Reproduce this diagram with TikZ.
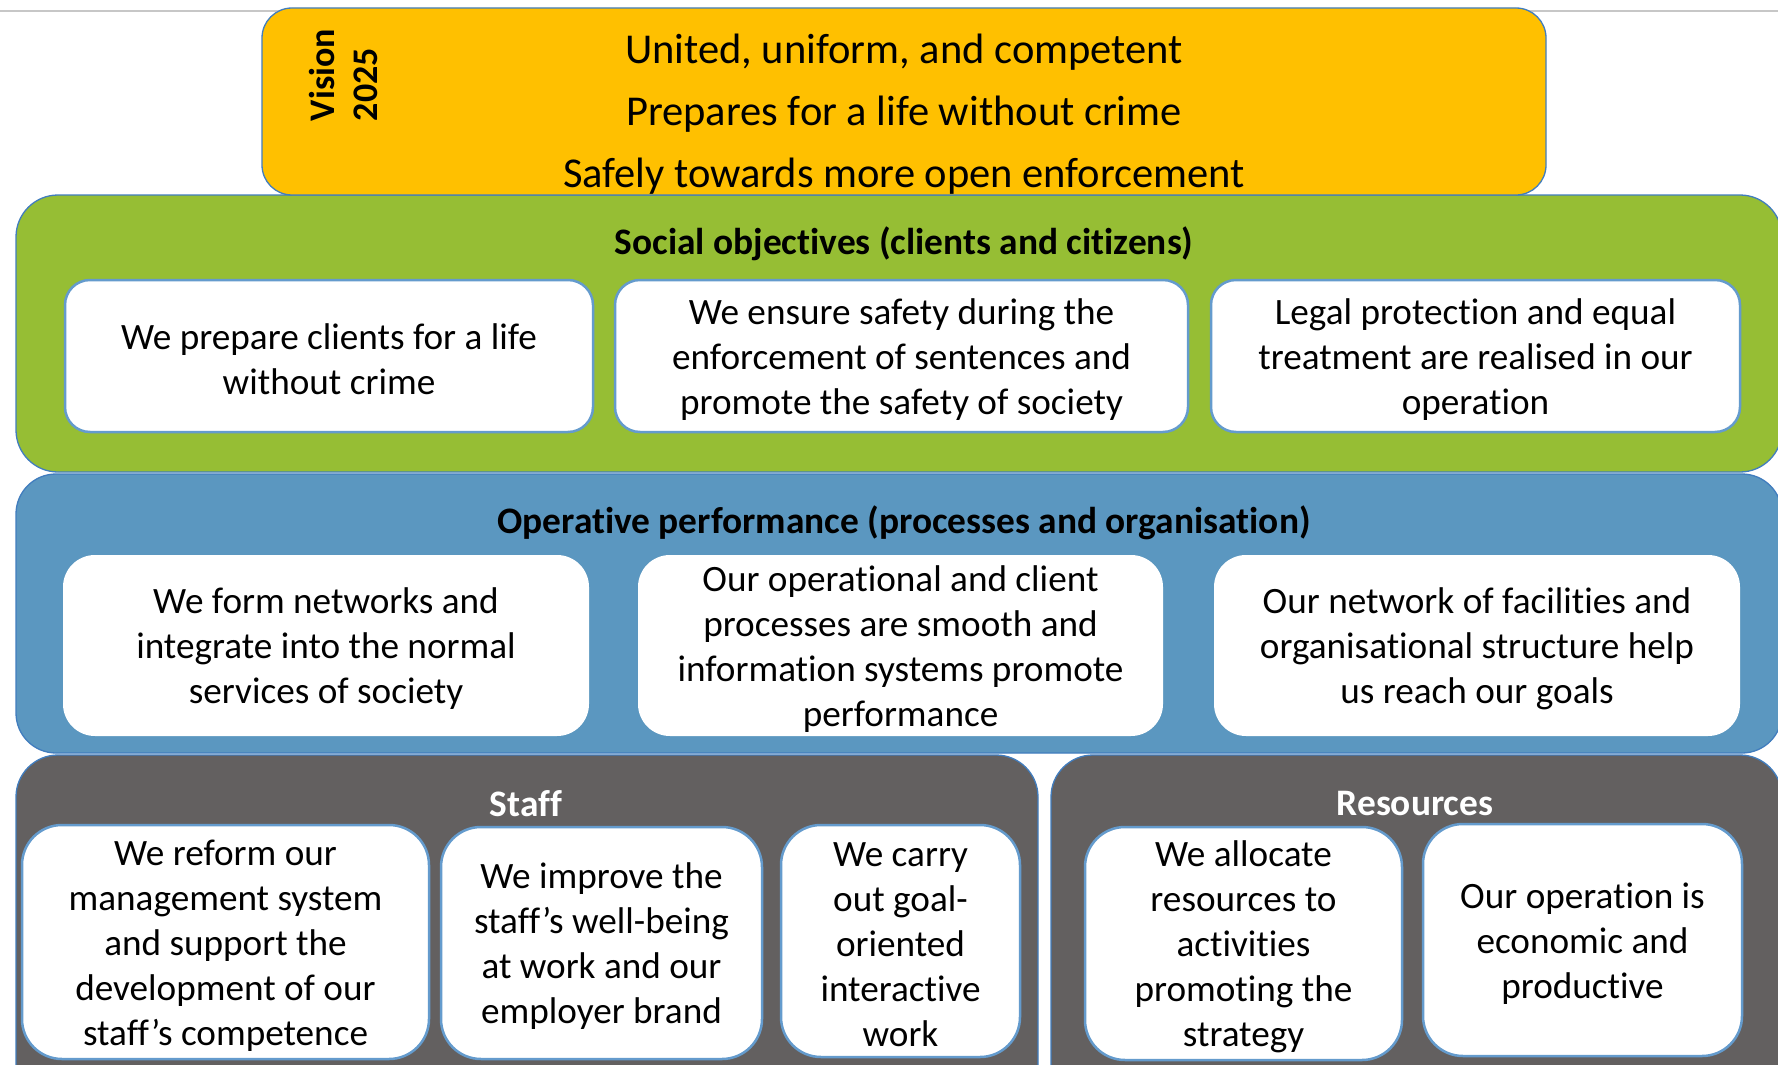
\documentclass[tikz,border=0pt]{standalone}
\usepackage{fontspec}
\setmainfont{Carlito}[RawFeature={-liga;-calt;-clig}]
\definecolor{vyellow}{RGB}{255,192,0}
\definecolor{sgreen}{RGB}{150,190,52}
\definecolor{oblue}{RGB}{91,151,192}
\definecolor{sgray}{RGB}{99,96,96}
\definecolor{edgeblue}{RGB}{65,125,190}
\definecolor{inblue}{RGB}{100,155,205}
\newcommand\mkbox[7]{%
  \pgfmathsetmacro\bw{#4-#2}\pgfmathsetmacro\bh{#5-#3}%
  \pgfmathsetmacro\bx{(#2+#4)/2}\pgfmathsetmacro\by{(#3+#5)/2}%
  \node[#6, minimum width=\bw pt, minimum height=\bh pt] (#1) at (\bx,\by) {#7};}
\begin{document}
\begin{tikzpicture}[x=1pt,y=-1pt,
  section/.style={draw=edgeblue, line width=1.3pt, inner sep=0pt},
  shiftdown/.style={label={[inner sep=0pt, align=center, font=\fontsize{37.2}{45}\selectfont, yshift=-3.5pt]center:#1}},
  gbox/.style={fill=white, draw=inblue, line width=2.5pt, rounded corners=25pt},
  bbox/.style={fill=white, draw=none, rounded corners=32pt},
  sbox/.style={fill=white, draw=inblue, line width=2.5pt, rounded corners=40pt},
  title/.style={font=\bfseries\fontsize{37.4}{44}\selectfont, inner sep=0pt, yshift=-2pt}
]
\useasboundingbox (0,0) rectangle (1778,1065);
\clip (0,0) rectangle (1778,1065);
\fill[white] (0,0) rectangle (1778,1065);
\coordinate (tl) at (0,11);
\coordinate (tr) at (1778,11);
\draw[black!22, line width=1.5pt] (tl) -- (tr);

% sections
\mkbox{green}{16}{195}{1782}{472}{section, fill=sgreen, rounded corners=42pt}{}
\mkbox{blue}{16}{474}{1782}{753}{section, fill=oblue, rounded corners=40pt}{}
\mkbox{staff}{16}{755}{1038}{1110}{section, fill=sgray, rounded corners=42pt}{}
\mkbox{res}{1051}{755}{1782}{1110}{section, fill=sgray, rounded corners=42pt}{}
\mkbox{vision}{262}{8}{1546}{195}{section, fill=vyellow, rounded corners=30pt}{}

% vision
\node[rotate=90, align=left, inner sep=0pt, font=\bfseries\fontsize{36}{43}\selectfont] (vlabel) at (343,75) {Vision\\2025};
\node[align=center, inner sep=0pt, font=\fontsize{42.5}{62}\selectfont, yshift=-2.5pt] (vtext) at (904,112)
  {United, uniform, and competent\\Prepares for a life without crime\\Safely towards more open enforcement};

% titles
\node[title] (gtitle) at (904,242) {Social objectives (clients and citizens)};
\node[title] (btitle) at (904,521) {Operative performance (processes and organisation)};
\node[title, text=white] (stitle) at (526,802) {Staff};
\node[title, text=white] (rtitle) at (1415,802) {Resources};

% social objectives
\mkbox{g1}{65}{280}{593}{432}{gbox, shiftdown={We prepare clients for a life\\without crime}}{}
\mkbox{g2}{615}{280}{1188}{432}{gbox, shiftdown={We ensure safety during the\\enforcement of sentences and\\promote the safety of society}}{}
\mkbox{g3}{1211}{280}{1740}{432}{gbox, shiftdown={Legal protection and equal\\treatment are realised in our\\operation}}{}

% operative performance
\mkbox{b1}{63}{555}{589}{736}{bbox, shiftdown={We form networks and\\integrate into the normal\\services of society}}{}
\mkbox{b2}{638}{555}{1163}{736}{bbox, shiftdown={Our operational and client\\processes are smooth and\\information systems promote\\performance}}{}
\mkbox{b3}{1214}{555}{1740}{736}{bbox, shiftdown={Our network of facilities and\\organisational structure help\\us reach our goals}}{}

% staff
\mkbox{s1}{22}{825}{429}{1059}{sbox, shiftdown={We reform our\\management system\\and support the\\development of our\\staff’s competence}}{}
\mkbox{s2}{441}{827}{762}{1059}{sbox, shiftdown={We improve the\\staff’s well-being\\at work and our\\employer brand}}{}
\mkbox{s3}{781}{825}{1020}{1057}{sbox, shiftdown={We carry\\out goal-\\oriented\\interactive\\work}}{}

% resources
\mkbox{r1}{1085}{827}{1402}{1060}{sbox, shiftdown={We allocate\\resources to\\activities\\promoting the\\strategy}}{}
\mkbox{r2}{1423}{824}{1742}{1056}{sbox, shiftdown={Our operation is\\economic and\\productive}}{}
\end{tikzpicture}
\end{document}
